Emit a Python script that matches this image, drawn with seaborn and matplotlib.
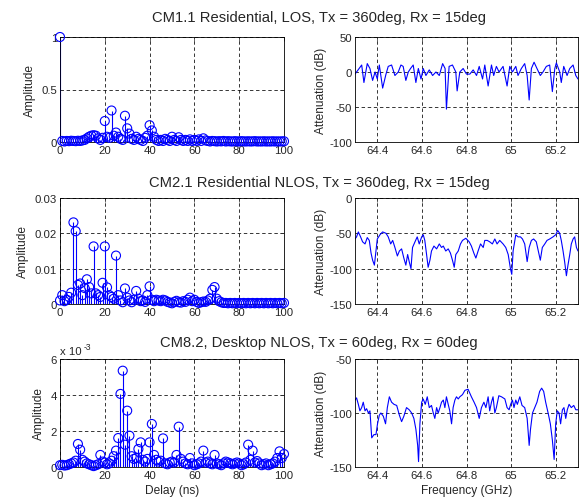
import numpy as np
import seaborn as sns
import matplotlib
matplotlib.use("Agg")
import matplotlib.pyplot as plt

sns.set_style("white")
plt.rcParams["font.family"] = ["Liberation Sans", "DejaVu Sans"]
plt.rcParams["axes.unicode_minus"] = False

# titulos de cada fila
titles = ["CM1.1 Residential, LOS, Tx = 360deg, Rx = 15deg",
          "CM2.1 Residential NLOS, Tx = 360deg, Rx = 15deg",
          "CM8.2, Desktop NLOS, Tx = 60deg, Rx = 60deg"]

# respuesta al impulso (retardo en ns)
delay = list(range(0, 101))
amp_los = [1.0, 0.01, 0.005, 0.01, 0.008, 0.012, 0.01, 0.008, 0.012, 0.01,
           0.015, 0.02, 0.035, 0.05, 0.06, 0.065, 0.06, 0.035, 0.02, 0.04,
           0.2, 0.05, 0.04, 0.3, 0.06, 0.09, 0.05, 0.03, 0.02, 0.25,
           0.13, 0.08, 0.03, 0.02, 0.05, 0.03, 0.02, 0.01, 0.04, 0.06,
           0.16, 0.11, 0.05, 0.02, 0.01, 0.02, 0.01, 0.03, 0.02, 0.01,
           0.05, 0.02, 0.01, 0.045, 0.02, 0.01, 0.02, 0.01, 0.025, 0.01,
           0.02, 0.01, 0.025, 0.01, 0.035, 0.015, 0.01, 0.005, 0.01, 0.008,
           0.005, 0.008, 0.006, 0.01, 0.005, 0.008, 0.006, 0.005, 0.008, 0.006,
           0.005, 0.008, 0.006, 0.005, 0.007, 0.005, 0.006, 0.008, 0.005, 0.006,
           0.005, 0.007, 0.005, 0.006, 0.005, 0.007, 0.005, 0.006, 0.005, 0.006,
           0.007]
amp_nlos = [0.001, 0.0025, 0.0008, 0.0012, 0.002, 0.0032, 0.0231, 0.0206, 0.0054, 0.0058,
            0.0025, 0.0045, 0.007, 0.0048, 0.003, 0.0163, 0.003, 0.0025, 0.002, 0.006,
            0.0163, 0.0047, 0.0025, 0.002, 0.0015, 0.0137, 0.0025, 0.001, 0.0005, 0.0044,
            0.0018, 0.001, 0.0005, 0.0012, 0.0037, 0.0015, 0.0008, 0.001, 0.0006, 0.0025,
            0.005, 0.0012, 0.0008, 0.0012, 0.001, 0.0008, 0.0012, 0.001, 0.0006, 0.0004,
            0.0002, 0.0006, 0.0009, 0.0005, 0.0004, 0.0008, 0.0006, 0.0012, 0.0018, 0.0008,
            0.0012, 0.0006, 0.0003, 0.0005, 0.0007, 0.0006, 0.001, 0.0015, 0.004, 0.0048,
            0.0015, 0.0008, 0.0005, 0.0003, 0.0003, 0.0002, 0.0003, 0.0002, 0.0003, 0.0002,
            0.0003, 0.0002, 0.0003, 0.0002, 0.0003, 0.0002, 0.0003, 0.0002, 0.0003, 0.0002,
            0.0003, 0.0002, 0.0003, 0.0002, 0.0003, 0.0002, 0.0003, 0.0002, 0.0003, 0.0002,
            0.0003]
amp_desk = [0.1, 0.12, 0.08, 0.1, 0.15, 0.2, 0.25, 0.35, 1.28, 0.96,
            0.4, 0.3, 0.2, 0.15, 0.1, 0.05, 0.1, 0.15, 0.67, 0.3,
            0.25, 0.15, 0.2, 0.35, 0.6, 0.91, 1.61, 4.06, 5.35, 1.24,
            3.13, 1.74, 0.6, 0.45, 0.5, 1.0, 1.37, 0.4, 0.3, 0.45,
            1.37, 2.39, 0.67, 0.4, 0.3, 0.35, 1.59, 0.2, 0.15, 0.25,
            0.3, 0.25, 0.67, 2.24, 0.45, 0.3, 0.2, 0.15, 0.5, 0.2,
            0.1, 0.15, 0.2, 0.3, 0.91, 0.25, 0.3, 0.2, 0.15, 0.67,
            0.2, 0.15, 0.1, 0.2, 0.3, 0.25, 0.2, 0.15, 0.2, 0.25,
            0.2, 0.1, 0.15, 0.25, 1.24, 0.4, 0.91, 0.25, 0.33, 0.2,
            0.1, 0.15, 0.2, 0.1, 0.15, 0.2, 0.3, 0.5, 0.87, 0.5,
            0.72]  # x 10^-3

# respuesta en frecuencia (GHz, dB)
freq_los = [64.300, 64.330, 64.340, 64.355, 64.367, 64.379, 64.390, 64.400, 64.409, 64.424,
            64.439, 64.449, 64.464, 64.479, 64.494, 64.506, 64.516, 64.528, 64.539, 64.549,
            64.561, 64.573, 64.584, 64.596, 64.606, 64.618, 64.633, 64.648, 64.663, 64.678,
            64.693, 64.704, 64.710, 64.722, 64.737, 64.752, 64.758, 64.770, 64.785, 64.800,
            64.815, 64.830, 64.845, 64.857, 64.872, 64.882, 64.897, 64.912, 64.922, 64.934,
            64.946, 64.964, 64.982, 64.994, 65.006, 65.021, 65.031, 65.046, 65.061, 65.072,
            65.081, 65.091, 65.103, 65.116, 65.131, 65.143, 65.158, 65.173, 65.185, 65.196,
            65.203, 65.218, 65.225, 65.236, 65.251, 65.263, 65.278, 65.290, 65.300]
att_los = [-3, 10, -15, 12, 5, -12, 0, -10, 10, -23,
           -3, 8, 10, -5, 0, 10, 8, -12, 0, 5,
           10, -15, 5, -10, 5, -5, 3, -5, 0, -5,
           12, 5, -53, 8, 10, 0, -27, 0, 5, -3,
           -3, 3, -5, 8, -10, 10, -20, 10, -5, 8,
           0, 8, -20, 8, 0, 8, -5, 5, 12, -5,
           -40, 5, 14, 5, -5, 0, 8, 10, -28, 5,
           13, 0, -15, 8, -5, 5, 10, -5, -10]

freq_nlos = [64.300, 64.307, 64.315, 64.325, 64.334, 64.345, 64.355, 64.364, 64.372, 64.379,
             64.387, 64.394, 64.400, 64.412, 64.424, 64.439, 64.449, 64.460, 64.469, 64.479,
             64.490, 64.499, 64.509, 64.519, 64.528, 64.536, 64.543, 64.551, 64.558, 64.569,
             64.579, 64.588, 64.599, 64.606, 64.613, 64.621, 64.628, 64.636, 64.643, 64.654,
             64.666, 64.678, 64.688, 64.696, 64.707, 64.718, 64.728, 64.737, 64.745, 64.752,
             64.763, 64.773, 64.782, 64.797, 64.812, 64.822, 64.833, 64.842, 64.852, 64.863,
             64.875, 64.882, 64.893, 64.904, 64.916, 64.927, 64.937, 64.949, 64.964, 64.976,
             64.987, 64.997, 65.003, 65.009, 65.021, 65.031, 65.042, 65.051, 65.061, 65.072,
             65.081, 65.091, 65.101, 65.113, 65.122, 65.131, 65.140, 65.151, 65.161, 65.173,
             65.188, 65.200, 65.209, 65.218, 65.225, 65.233, 65.240, 65.248, 65.255, 65.263,
             65.270, 65.278, 65.285, 65.293, 65.300]
att_nlos = [-58, -55, -48, -55, -62, -65, -56, -60, -78, -88,
            -95, -75, -58, -52, -48, -50, -55, -65, -60, -70,
            -82, -75, -72, -85, -95, -80, -90, -100, -70, -62,
            -55, -65, -55, -52, -60, -80, -98, -88, -75, -68,
            -72, -65, -70, -68, -75, -72, -78, -88, -98, -80,
            -75, -65, -60, -57, -62, -68, -78, -85, -75, -65,
            -70, -60, -60, -62, -65, -58, -65, -60, -65, -70,
            -80, -100, -108, -75, -52, -55, -55, -58, -65, -90,
            -70, -60, -58, -62, -75, -88, -70, -65, -60, -58,
            -55, -52, -46, -50, -60, -75, -90, -110, -95, -80,
            -65, -58, -55, -70, -75]

freq_desk = [64.300, 64.307, 64.315, 64.322, 64.330, 64.337, 64.345, 64.352, 64.360, 64.367,
             64.375, 64.385, 64.394, 64.401, 64.409, 64.416, 64.427, 64.437, 64.445, 64.454,
             64.464, 64.475, 64.487, 64.499, 64.509, 64.519, 64.531, 64.543, 64.554, 64.564,
             64.573, 64.581, 64.585, 64.591, 64.599, 64.606, 64.615, 64.624, 64.633, 64.643,
             64.651, 64.658, 64.666, 64.673, 64.681, 64.688, 64.696, 64.703, 64.710, 64.718,
             64.725, 64.733, 64.740, 64.748, 64.755, 64.763, 64.770, 64.782, 64.793, 64.807,
             64.822, 64.834, 64.845, 64.857, 64.867, 64.878, 64.887, 64.897, 64.904, 64.912,
             64.919, 64.927, 64.934, 64.945, 64.957, 64.972, 64.982, 64.991, 64.998, 65.006,
             65.013, 65.021, 65.028, 65.039, 65.049, 65.061, 65.072, 65.081, 65.087, 65.096,
             65.106, 65.116, 65.128, 65.137, 65.146, 65.155, 65.166, 65.176, 65.185, 65.193,
             65.200, 65.207, 65.215, 65.222, 65.230, 65.237, 65.245, 65.252, 65.260, 65.270,
             65.281, 65.290, 65.300]
att_desk = [-88, -86, -92, -98, -95, -90, -98, -96, -100, -98,
            -123, -120, -120, -110, -102, -100, -103, -110, -95, -85,
            -90, -92, -93, -102, -108, -103, -95, -97, -100, -105,
            -115, -130, -145, -110, -90, -87, -92, -85, -95, -93,
            -100, -105, -95, -100, -95, -90, -88, -95, -85, -92,
            -98, -110, -95, -88, -85, -87, -85, -83, -79, -78,
            -85, -90, -95, -105, -95, -90, -95, -85, -98, -90,
            -85, -100, -95, -84, -85, -87, -95, -97, -92, -88,
            -95, -88, -92, -85, -93, -95, -105, -130, -115, -100,
            -95, -90, -80, -77, -80, -90, -100, -110, -125, -143,
            -110, -98, -100, -110, -97, -95, -105, -97, -92, -95,
            -93, -97, -97]

W, H = 579, 502
fig = plt.figure(figsize=(W / 100, H / 100), dpi=100)

rows = [(38, 143), (199, 305), (360, 468)]
stems = [amp_los, amp_nlos, amp_desk]
lines = [(freq_los, att_los), (freq_nlos, att_nlos), (freq_desk, att_desk)]
amp_lims = [(0, 1), (0, 0.03), (0, 6)]
amp_ticks = [[0, 0.5, 1], [0, 0.01, 0.02, 0.03], [0, 2, 4, 6]]
amp_labels = [["0", "0.5", "1"], ["0", "0.01", "0.02", "0.03"], ["0", "2", "4", "6"]]
att_lims = [(-100, 50), (-150, 0), (-150, -50)]
att_ticks = [[-100, -50, 0, 50], [-150, -100, -50, 0], [-150, -100, -50]]
title_y = [18, 183, 343]

fs_tick = 8.2
fs_lab = 8.6


def style_axes(ax):
    for s in ax.spines.values():
        s.set_color("black")
        s.set_linewidth(0.6)
    ax.tick_params(direction="in", length=3, width=0.5, labelsize=fs_tick,
                   top=True, right=True, pad=2)
    ax.grid(True, color="black", linestyle=(0, (4.5, 3.5)), linewidth=0.55)
    ax.set_axisbelow(True)


for i, (top, bot) in enumerate(rows):
    b = 1 - bot / H
    h = (bot - top) / H
    # retardo
    ax = fig.add_axes([60 / W, b, 224 / W, h])
    y = stems[i]
    ax.vlines(delay, 0, y, color="blue", linewidth=0.8, zorder=2)
    sns.scatterplot(x=delay, y=y, ax=ax, marker="o", s=42, zorder=3, legend=False)
    pts = ax.collections[-1]
    pts.set_facecolor("none")
    pts.set_edgecolor("blue")
    pts.set_linewidth(0.8)
    pts.set_clip_on(False)
    ax.set_xlim(0, 100)
    ax.set_ylim(*amp_lims[i])
    ax.set_xticks([0, 20, 40, 60, 80, 100])
    ax.set_yticks(amp_ticks[i])
    ax.set_yticklabels(amp_labels[i])
    ax.set_ylabel("Amplitude", fontsize=fs_lab, labelpad=4)
    style_axes(ax)
    if i == 2:
        ax.set_xlabel("Delay (ns)", fontsize=fs_lab, labelpad=3)
        ax.text(0, 1.03, "x 10", transform=ax.transAxes, fontsize=fs_tick,
                ha="left", va="bottom")
        ax.text(0.105, 1.075, "-3", transform=ax.transAxes, fontsize=fs_tick * 0.75,
                ha="left", va="bottom")

    # frecuencia
    ax2 = fig.add_axes([355 / W, b, 223 / W, h])
    fx, fy = lines[i]
    sns.lineplot(x=fx, y=fy, ax=ax2, color="blue", linewidth=0.8, estimator=None,
                 sort=False)
    ax2.set_xlim(64.3, 65.3)
    ax2.set_ylim(*att_lims[i])
    ax2.set_xticks([64.4, 64.6, 64.8, 65.0, 65.2])
    ax2.set_xticklabels(["64.4", "64.6", "64.8", "65", "65.2"])
    ax2.set_yticks(att_ticks[i])
    ax2.set_ylabel("Attenuation (dB)", fontsize=fs_lab, labelpad=2)
    style_axes(ax2)
    if i == 2:
        ax2.set_xlabel("Frequency (GHz)", fontsize=fs_lab, labelpad=3)

    fig.text(319 / W, 1 - title_y[i] / H, titles[i], ha="center", va="center",
             fontsize=10.6)

fig.savefig("out.png", dpi=100)
